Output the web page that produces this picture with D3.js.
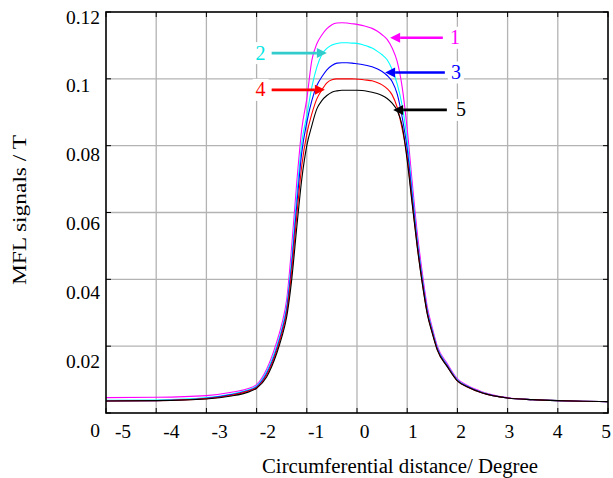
<!DOCTYPE html>
<html>
<head>
<meta charset="utf-8">
<script src="https://cdn.jsdelivr.net/npm/d3@7/dist/d3.min.js"></script>
<style>
  html, body { margin: 0; padding: 0; background: #fff; }
  svg { display: block; }
  text { font-family: "Liberation Serif", "Times New Roman", serif; }
</style>
</head>
<body>
<svg id="chart" width="613" height="478"></svg>
<script>
// ---------------- data ----------------
const xValues = [-5, -4, -3, -2.5, -2.2, -2, -1.8, -1.6, -1.5, -1.4, -1.3, -1.2, -1.1, -1.0, -0.9, -0.8, -0.7, -0.6, -0.5, -0.4, -0.3, -0.2, -0.1, 0, 0.1, 0.2, 0.3, 0.4, 0.5, 0.6, 0.7, 0.8, 0.9, 1.0, 1.1, 1.2, 1.3, 1.4, 1.5, 1.6, 1.8, 2.0, 2.2, 2.5, 3, 3.5, 4, 4.5, 5];

const series1 = [.0046, .0047, .0052, .0062, .0072, .0085, .0131, .0212, .0265, .0340, .0500, .0690, .0850, .0940, .1055, .1105, .1131, .1150, .1162, .1167, .1168, .1167, .1165, .1163, .1160, .1156, .1151, .1143, .1132, .1118, .1092, .1052, .0975, .0850, .0690, .0540, .0420, .0318, .0255, .0200, .0147, .0102, .0082, .0063, .0046, .0040, .0037, .0035, .0034];
const series2 = [.0038, .0039, .0046, .0057, .0068, .0081, .0124, .0200, .0252, .0322, .0465, .0650, .0810, .0890, .0975, .1035, .1073, .1091, .1101, .1106, .1108, .1108, .1107, .1106, .1103, .1098, .1092, .1083, .1072, .1057, .1028, .0985, .0920, .0815, .0665, .0520, .0405, .0308, .0248, .0195, .0143, .0099, .0080, .0061, .0045, .0040, .0037, .0035, .0034];
const series3 = [.0036, .0037, .0044, .0055, .0066, .0078, .0118, .0192, .0243, .0310, .0445, .0620, .0780, .0870, .0935, .0980, .1006, .1027, .1040, .1047, .1048, .1048, .1047, .1045, .1043, .1040, .1036, .1030, .1022, .1010, .0992, .0955, .0885, .0790, .0648, .0510, .0398, .0303, .0244, .0192, .0141, .0097, .0079, .0060, .0045, .0040, .0037, .0035, .0034];
const series4 = [.0036, .0037, .0043, .0053, .0064, .0076, .0114, .0186, .0236, .0300, .0425, .0590, .0740, .0835, .0895, .0940, .0967, .0988, .0997, .1000, .1000, .1000, .1000, .0999, .0998, .0996, .0994, .0989, .0982, .0971, .0952, .0915, .0850, .0765, .0630, .0500, .0390, .0298, .0240, .0189, .0139, .0096, .0078, .0060, .0045, .0040, .0037, .0035, .0034];
const series5 = [.0036, .0037, .0042, .0051, .0061, .0074, .0108, .0178, .0226, .0288, .0400, .0555, .0700, .0800, .0860, .0910, .0935, .0950, .0960, .0964, .0966, .0966, .0966, .0966, .0965, .0963, .0960, .0956, .0950, .0941, .0927, .0905, .0860, .0755, .0625, .0497, .0388, .0296, .0238, .0188, .0138, .0096, .0078, .0060, .0045, .0040, .0037, .0035, .0034];

const seriesNames = ["1", "2", "3", "4", "5"];
const seriesColors = ["#ff00ff", "#00ffff", "#0000ff", "#ff0000", "#000000"];
const arrowColors = ["#ff00ff", "#33cccc", "#0000ff", "#ff0000", "#000000"];
const labelColors = ["#ff00ff", "#00e5e5", "#0000ff", "#ff0000", "#000000"];
// annotation arrows (data units): arrow tail x, head x, y, label x
const arrowTailX = [1.71, -1.70, 1.75, -1.70, 1.79];
const arrowHeadX = [0.66, -0.60, 0.56, -0.64, 0.72];
const arrowY = [0.1123, 0.1077, 0.1019, 0.0967, 0.0907];
const arrowLabelX = [1.95, -1.92, 1.97, -1.92, 2.07];

const xTicks = [-5, -4, -3, -2, -1, 0, 1, 2, 3, 4, 5];
const xTickLabels = ["-5", "-4", "-3", "-2", "-1", "0", "1", "2", "3", "4", "5"];
const yTicks = [0, 0.02, 0.04, 0.06, 0.08, 0.1, 0.12];
const yTickLabels = ["0", "0.02", "0.04", "0.06", "0.08", "0.1\u2007", "0.12"];
const xTitle = "Circumferential distance/ Degree";
const yTitle = "MFL signals / T";

// ---------------- layout ----------------
const svg = d3.select("#chart");
const L = 106, R = 608, T = 12, B = 413;

const x = d3.scaleLinear().domain([-5, 5]).range([L, R]);
const y = d3.scaleLinear().domain([0, 0.12]).range([B, T]);
// tick labels in the original are drawn slightly offset from the ticks
const xLab = d3.scaleLinear().domain([-5, 5]).range([123, 606]);
const yLab = d3.scaleLinear().domain([0, 0.12]).range([430, 17]);

// grid
const grid = svg.append("g");
grid.selectAll("line.vx").data(xTicks.slice(1, -1)).join("line")
  .attr("x1", d => x(d)).attr("x2", d => x(d)).attr("y1", T).attr("y2", B)
  .attr("stroke", "#b3b3b3").attr("stroke-width", 1.3);
grid.selectAll("line.hy").data(yTicks.slice(1, -1)).join("line")
  .attr("x1", L).attr("x2", R).attr("y1", d => y(d)).attr("y2", d => y(d))
  .attr("stroke", "#b3b3b3").attr("stroke-width", 1.3);

// inside ticks
const tk = svg.append("g").attr("stroke", "#000").attr("stroke-width", 1);
xTicks.forEach(v => {
  tk.append("line").attr("x1", x(v)).attr("x2", x(v)).attr("y1", B).attr("y2", B - 5);
  tk.append("line").attr("x1", x(v)).attr("x2", x(v)).attr("y1", T).attr("y2", T + 5);
});
yTicks.forEach(v => {
  tk.append("line").attr("x1", L).attr("x2", L + 5).attr("y1", y(v)).attr("y2", y(v));
  tk.append("line").attr("x1", R).attr("x2", R - 5).attr("y1", y(v)).attr("y2", y(v));
});

// clip
svg.append("clipPath").attr("id", "clip").append("rect")
  .attr("x", L).attr("y", T).attr("width", R - L).attr("height", B - T);

// curves
const allSeries = [series1, series2, series3, series4, series5];
const line = d3.line().x((d, i) => x(xValues[i])).y(d => y(d)).curve(d3.curveMonotoneX);
const curves = svg.append("g").attr("clip-path", "url(#clip)");
allSeries.forEach((s, k) => {
  curves.append("path").datum(s).attr("d", line)
    .attr("fill", "none").attr("stroke", seriesColors[k]).attr("stroke-width", 1.1);
});

// box
svg.append("rect").attr("x", L).attr("y", T).attr("width", R - L).attr("height", B - T)
  .attr("fill", "none").attr("stroke", "#000").attr("stroke-width", 1.6);

// tick labels
svg.append("g").selectAll("text").data(xTicks).join("text")
  .attr("x", d => xLab(d)).attr("y", 438)
  .attr("text-anchor", "middle").attr("font-size", 19.5).attr("fill", "#000")
  .text((d, i) => xTickLabels[i]);
svg.append("g").selectAll("text").data(yTicks).join("text")
  .attr("x", 100).attr("y", d => yLab(d) + 6.5)
  .attr("text-anchor", "end").attr("font-size", 19.5).attr("fill", "#000")
  .text((d, i) => yTickLabels[i]);

// titles
svg.append("text").attr("x", 400).attr("y", 472.5).attr("text-anchor", "middle")
  .attr("font-size", 20.8).attr("fill", "#000").text(xTitle);
svg.append("text").attr("transform", "translate(26,210) rotate(-90) scale(1.3,1)").attr("text-anchor", "middle")
  .attr("font-size", 18).attr("fill", "#000").text(yTitle);

// annotation arrows
const ann = svg.append("g");
seriesNames.forEach((name, k) => {
  const yy = y(arrowY[k]);
  const x0 = x(arrowTailX[k]), x1 = x(arrowHeadX[k]);
  const dir = x1 < x0 ? -1 : 1;
  const headLen = 10, headHalf = 5;
  const lx = x(arrowLabelX[k]);
  ann.append("rect").attr("x", lx - 8).attr("y", yy - 11).attr("width", 16).attr("height", 22)
    .attr("fill", "#fff");
  ann.append("line").attr("x1", x0).attr("x2", x1 - dir * headLen).attr("y1", yy).attr("y2", yy)
    .attr("stroke", arrowColors[k]).attr("stroke-width", 2.6);
  ann.append("path")
    .attr("d", `M${x1},${yy} L${x1 - dir * headLen},${yy - headHalf} L${x1 - dir * headLen},${yy + headHalf} Z`)
    .attr("fill", arrowColors[k]);
  ann.append("text").attr("x", lx).attr("y", yy + 6.5).attr("text-anchor", "middle")
    .attr("font-size", 20).attr("fill", labelColors[k]).text(name);
});
</script>
</body>
</html>
